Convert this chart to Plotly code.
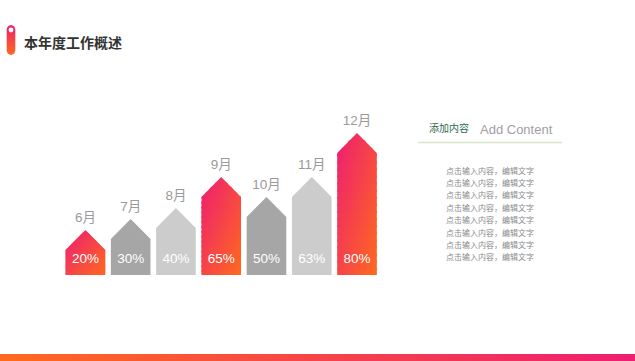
import numpy as np
import plotly.graph_objects as go

# ---------------- data ----------------
months = ["6月", "7月", "8月", "9月", "10月", "11月", "12月"]
percent_labels = ["20%", "30%", "40%", "65%", "50%", "63%", "80%"]
bar_levels = [25, 36, 47, 78, 58, 78, 122]          # shoulder heights
bar_styles = ["grad", "dark", "light", "grad", "dark", "light", "grad"]
title_text = "本年度工作概述"
panel_title_cn = "添加内容"
panel_title_en = "Add Content"
body_lines = ["点击输入内容，编辑文字"] * 8

# ---------------- style ----------------
W, H = 635, 361
PINK = (238, 30, 112)
ORANGE = (255, 106, 30)
DARK_GREY = "#A6A6A6"
LIGHT_GREY = "#CDCCCC"
PEAK = 20          # height of the roof triangle (y units = px)
BAR_W = 0.875      # bar width in category units
STEP_PX = 45.27    # px per category
X0_PX = 85.4       # px of first bar centre
BASE_PX = 275      # px of bar baseline


def mix(t):
    t = min(max(t, 0), 1)
    c = [round(PINK[k] + (ORANGE[k] - PINK[k]) * t) for k in range(3)]
    return "rgb(%d,%d,%d)" % tuple(c)


def half_width(y, h):
    if y <= h:
        return BAR_W / 2
    return BAR_W / 2 * max(0.0, 1 - (y - h) / PEAK)


def strip_poly(c, h, y0, y1):
    ys = [y0] + ([h] if y0 < h < y1 else []) + [y1]
    left = [(c - half_width(y, h), y) for y in ys]
    right = [(c + half_width(y, h), y) for y in reversed(ys)]
    pts = left + right
    return [p[0] for p in pts], [p[1] for p in pts]


fig = go.Figure()

for i, (h, st) in enumerate(zip(bar_levels, bar_styles)):
    top = h + PEAK
    if st == "grad":
        n = 20
        edges = np.linspace(0, top, n + 1)
        for k in range(n):
            y0 = max(0, edges[k] - 2.0)
            y1 = edges[k + 1]
            ym = (edges[k] + edges[k + 1]) / 2
            v = 1 - ym / top
            xs, ys = strip_poly(i, h, y0, y1)
            fig.add_trace(go.Scatter(
                x=xs, y=ys, mode="lines", fill="toself",
                line=dict(width=0), hoverinfo="skip", showlegend=False,
                fillgradient=dict(type="horizontal", start=i - BAR_W / 2, stop=i + BAR_W / 2,
                                  colorscale=[[0, mix(0.5 * v)], [1, mix(0.5 * v + 0.5)]]),
            ))
    else:
        xs, ys = strip_poly(i, h, 0, top)
        fig.add_trace(go.Scatter(
            x=xs, y=ys, mode="lines", fill="toself",
            line=dict(width=0), hoverinfo="skip", showlegend=False,
            fillcolor=DARK_GREY if st == "dark" else LIGHT_GREY,
        ))

# percent labels inside bars
fig.add_trace(go.Scatter(
    x=list(range(len(months))), y=[15] * len(months), mode="text",
    text=percent_labels, textposition="middle center",
    textfont=dict(family="Arial, Liberation Sans", size=13.5, color="white"),
    hoverinfo="skip", showlegend=False))

# month labels above roofs
fig.add_trace(go.Scatter(
    x=list(range(len(months))), y=[h + PEAK + 5 for h in bar_levels], mode="text",
    text=months, textposition="top center",
    textfont=dict(family="Arial, Liberation Sans, Noto Sans CJK SC", size=13.5, color="#9A9A9A"),
    hoverinfo="skip", showlegend=False))

# ---------------- decorations (pixel axes x2/y2) ----------------
r = 4.3
cx, ytop, ybot = 11.0, 25.0 + r, 55.0 - r
ang_top = np.linspace(np.pi, 2 * np.pi, 20)
ang_bot = np.linspace(0, np.pi, 20)
px = list(cx + r * np.cos(ang_top)) + list(cx + r * np.cos(ang_bot))
py = list(ytop + r * np.sin(ang_top)) + list(ybot + r * np.sin(ang_bot))
fig.add_trace(go.Scatter(
    x=px, y=py, xaxis="x2", yaxis="y2", mode="lines", fill="toself",
    line=dict(width=0), hoverinfo="skip", showlegend=False,
    fillgradient=dict(type="vertical", start=25, stop=55,
                      colorscale=[[0, mix(0)], [1, mix(1)]])))

fig.add_trace(go.Scatter(
    x=[0, W, W, 0, 0], y=[354, 354, H, H, 354], xaxis="x2", yaxis="y2",
    mode="lines", fill="toself", line=dict(width=0), hoverinfo="skip", showlegend=False,
    fillgradient=dict(type="horizontal", start=0, stop=W,
                      colorscale=[[0, mix(1)], [1, mix(0)]])))

shapes = [
    dict(type="circle", xref="x2", yref="y2", x0=cx - 2.4, x1=cx + 2.4, y0=30 - 2.4, y1=30 + 2.4,
         fillcolor="white", line=dict(width=0)),
    dict(type="line", xref="x2", yref="y2", x0=418, x1=562, y0=142.5, y1=142.5,
         line=dict(color="#D6E6C6", width=1.6)),
]

annotations = [
    dict(x=22, y=42, xref="x2", yref="y2", text="<b>%s</b>" % title_text, showarrow=False,
         xanchor="left", yanchor="middle",
         font=dict(family="Noto Sans CJK SC", size=14, color="#333333")),
    dict(x=448.5, y=127, xref="x2", yref="y2", text=panel_title_cn, showarrow=False,
         xanchor="center", yanchor="middle",
         font=dict(family="Noto Sans CJK SC", size=10, color="#2E6A50")),
    dict(x=478, y=129, xref="x2", yref="y2", text=panel_title_en, showarrow=False,
         xanchor="left", yanchor="middle",
         font=dict(family="Arial, Liberation Sans", size=13, color="#A0A0A0")),
]
for k, line in enumerate(body_lines):
    annotations.append(dict(x=489.5, y=170 + k * 12.4, xref="x2", yref="y2", text=line,
                            showarrow=False, xanchor="center", yanchor="middle",
                            font=dict(family="Noto Sans CJK SC", size=8, color="#8A8A8A")))

fig.update_layout(
    width=W, height=H, margin=dict(l=0, r=0, t=0, b=0),
    paper_bgcolor="white", plot_bgcolor="rgba(0,0,0,0)",
    xaxis=dict(range=[-X0_PX / STEP_PX, (W - X0_PX) / STEP_PX], visible=False, fixedrange=True),
    yaxis=dict(range=[-(H - BASE_PX), BASE_PX], visible=False, fixedrange=True),
    xaxis2=dict(range=[0, W], visible=False, anchor="y2", domain=[0, 1], fixedrange=True),
    yaxis2=dict(range=[H, 0], visible=False, anchor="x2", domain=[0, 1], fixedrange=True),
    shapes=shapes, annotations=annotations,
)

fig.write_html("out.html", config={"displayModeBar": False},
               post_script="document.body.style.margin='0';document.body.style.overflow='hidden';")
